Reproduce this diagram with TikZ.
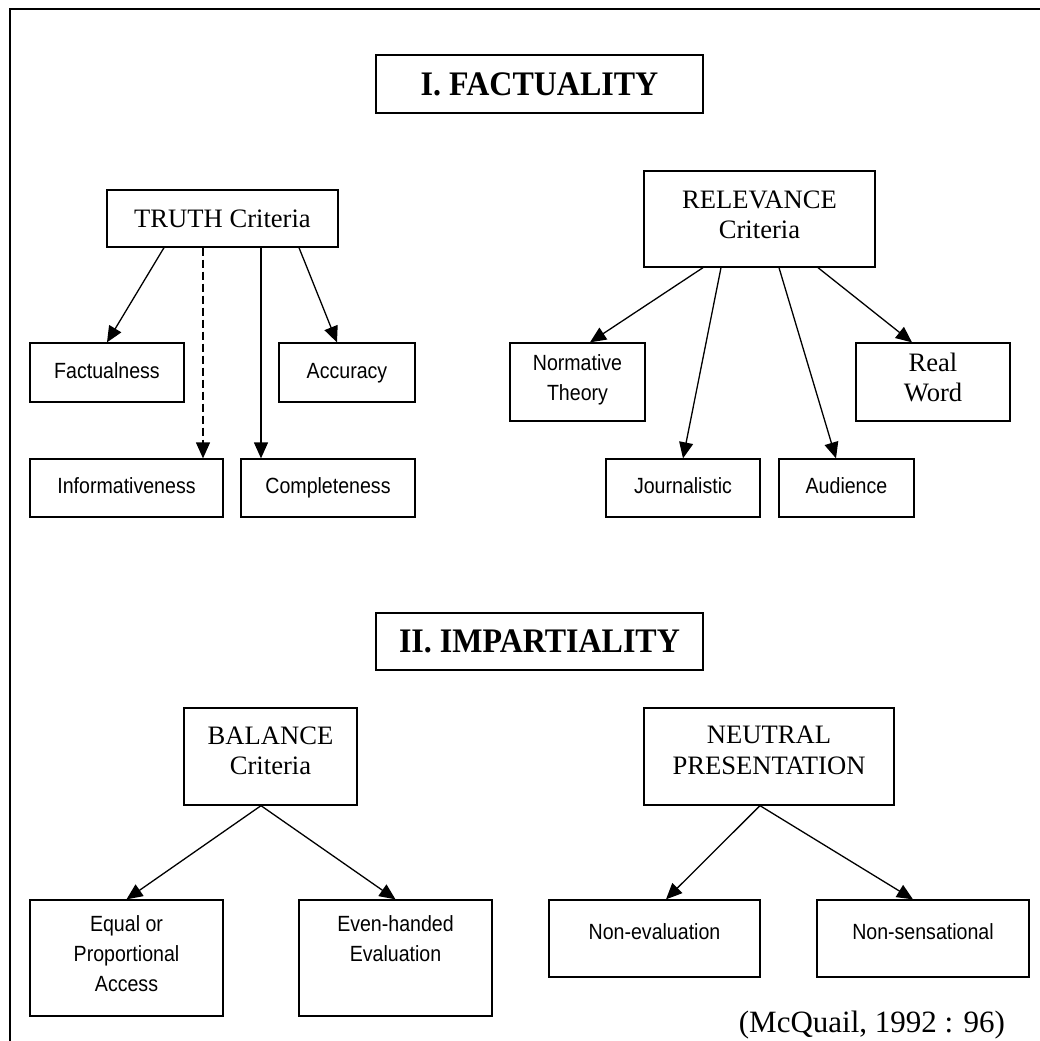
\documentclass[tikz,border=0pt]{standalone}
\usepackage{fontspec}
\setmainfont{Liberation Serif}
\newfontfamily\leaffont[FakeStretch=0.89]{Liberation Sans}
\newfontfamily\headfont[FakeStretch=0.93]{Liberation Serif}
\usetikzlibrary{arrows.meta,positioning}

\tikzset{
  crit/.style={draw,line width=0.65pt,inner sep=0pt,align=center,font=\fontsize{13.3}{15.3}\selectfont},
  leaf/.style={draw,line width=0.65pt,inner sep=0pt,align=center,font=\leaffont\fontsize{11}{14.8}\selectfont,
    execute at begin node=\strut,execute at end node=\strut},
  heading/.style={draw,line width=1pt,inner sep=0pt,font=\headfont\bfseries\fontsize{17.2}{19}\selectfont},
  arr/.style={-{Triangle[length=8pt,width=7pt]},line width=0.65pt},
}

\begin{document}
\begin{tikzpicture}[x=0.5pt,y=-0.5pt]
\useasboundingbox (0,0) rectangle (1040,1041);
\draw[line width=1pt] (1040,9) -- (10,9) -- (10,1041);

% I. factuality
\node[heading,minimum width=163.5pt,minimum height=29pt] (fact) at (539.5,84) {I. FACTUALITY};

\node[crit,minimum width=115.5pt,minimum height=28.5pt] (truth) at (222.5,218.5) {TRUTH Criteria};
\node[leaf,minimum width=77pt,minimum height=29.5pt] (factualness) at (107,372.5) {Factualness};
\node[leaf,minimum width=68pt,minimum height=29.5pt] (accuracy) at (347,372.5) {Accuracy};
\node[leaf,minimum width=96.5pt,minimum height=29pt] (informativeness) at (126.5,488) {Informativeness};
\node[leaf,minimum width=87pt,minimum height=29pt] (completeness) at (328,488) {Completeness};

\node[crit,minimum width=115.5pt,minimum height=48pt,text depth=4.5pt] (relevance) at (759.5,219) {RELEVANCE\\Criteria};
\node[leaf,minimum width=67.5pt,minimum height=39pt] (normative) at (577.5,382) {Normative\\Theory};
\node[leaf,minimum width=77pt,minimum height=39pt,font=\fontsize{13.3}{15}\selectfont] (realword) at (933,382) {Real\\Word};
\node[leaf,minimum width=77pt,minimum height=29pt] (journalistic) at (683,488) {Journalistic};
\node[leaf,minimum width=67.5pt,minimum height=29pt] (audience) at (846.5,488) {Audience};

\draw[arr] ([xshift=-29.25pt]truth.south) -- (factualness.north);
\draw[arr,dash pattern=on 4pt off 2pt] ([xshift=-9.75pt]truth.south) -- ([xshift=38.25pt]informativeness.north);
\draw[arr] ([xshift=19.25pt]truth.south) -- ([xshift=-33.5pt]completeness.north);
\draw[arr] ([xshift=38.25pt]truth.south) -- ([xshift=-5pt]accuracy.north);

\draw[arr] ([xshift=-28.25pt]relevance.south) -- ([xshift=6.25pt]normative.north);
\draw[arr] ([xshift=-19.25pt]relevance.south) -- (journalistic.north);
\draw[arr] ([xshift=9.75pt]relevance.south) -- ([xshift=-5.25pt]audience.north);
\draw[arr] ([xshift=29.25pt]relevance.south) -- ([xshift=-10.5pt]realword.north);

% II. impartiality
\node[heading,minimum width=163.5pt,minimum height=28.5pt] (impart) at (539.5,641) {II. IMPARTIALITY};

\node[crit,minimum width=86.5pt,minimum height=48.5pt,text depth=6pt] (balance) at (270.5,756.5) {BALANCE\\Criteria};
\node[leaf,minimum width=96.5pt,minimum height=58pt] (equal) at (126.5,958) {Equal or\\Proportional\\Access};
\node[leaf,minimum width=96.5pt,minimum height=58pt] (evenhanded) at (395.5,958) {Even-handed\\Evaluation\\ };

\node[crit,minimum width=125pt,minimum height=48.5pt,text depth=6pt] (neutral) at (769,756.5) {NEUTRAL\\PRESENTATION};
\node[leaf,minimum width=105.5pt,minimum height=38.5pt,text depth=9.5pt] (noneval) at (654.5,938.5) {Non-evaluation};
\node[leaf,minimum width=106pt,minimum height=38.5pt,text depth=9.5pt] (nonsens) at (923,938.5) {Non-sensational};

\foreach \t in {equal,evenhanded}
  \draw[arr] ([xshift=-4.75pt]balance.south) -- (\t.north);
\draw[arr] ([xshift=-4.5pt]neutral.south) -- ([xshift=5.75pt]noneval.north);
\draw[arr] ([xshift=-4.5pt]neutral.south) -- ([xshift=-5pt]nonsens.north);

\node[anchor=base east,font=\fontsize{15.5}{18}\selectfont] (source) at (1012,1032) {(McQuail, 1992 : 96)};
\end{tikzpicture}
\end{document}
